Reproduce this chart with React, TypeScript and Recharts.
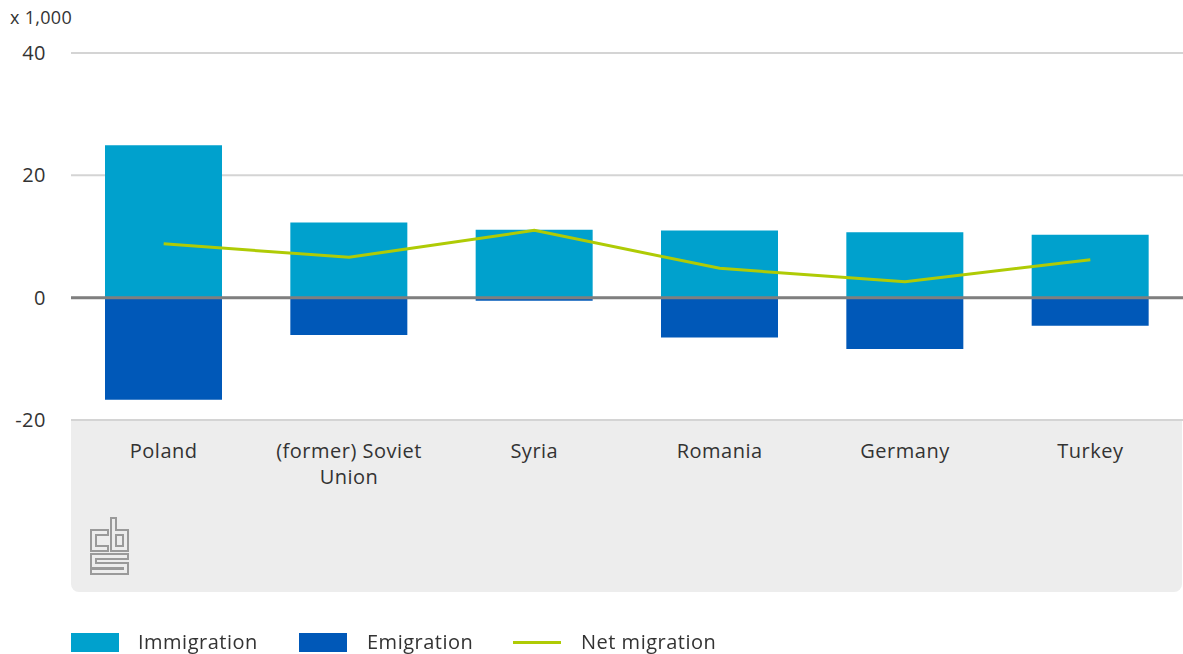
import { Bar, ComposedChart, Line, XAxis, YAxis, CartesianGrid, ReferenceLine } from 'recharts';

const countries = ['Poland', '(former) Soviet Union', 'Syria', 'Romania', 'Germany', 'Turkey'];
const immigration = [24.9, 12.3, 11.1, 11.0, 10.7, 10.3];
const emigration = [-16.7, -6.1, -0.5, -6.5, -8.4, -4.6];
const netMigration = [8.8, 6.6, 11.0, 4.8, 2.6, 6.2];
const yTicks = [-20, 0, 20, 40];

const data = countries.map((country, i) => ({
  country,
  immigration: immigration[i],
  emigration: emigration[i],
  net: netMigration[i],
}));

const FONT = '"Open Sans", sans-serif';
const TEXT = '#333';

// greedy word wrap, max ~16 chars a line
function wrap(label: string, max = 16) {
  const lines: string[] = [];
  let cur = '';
  for (const w of label.split(' ')) {
    if (cur && (cur + ' ' + w).length > max) {
      lines.push(cur);
      cur = w;
    } else {
      cur = cur ? cur + ' ' + w : w;
    }
  }
  if (cur) lines.push(cur);
  return lines;
}

function YTick({ x, y, payload }: any) {
  return (
    <text x={x - 17} y={y} dy={7} textAnchor="end" fontSize={20} letterSpacing={0.5} fill={TEXT} fontFamily={FONT}>
      {payload.value}
    </text>
  );
}

function XTick({ x, y, payload }: any) {
  const lines = wrap(String(payload.value));
  return (
    <text x={x} y={y + 30} textAnchor="middle" fontSize={20} letterSpacing={0.5} fill={TEXT} fontFamily={FONT}>
      {lines.map((l, i) => (
        <tspan key={i} x={x} dy={i === 0 ? 0 : 26}>{l}</tspan>
      ))}
    </text>
  );
}

function CbsLogo() {
  return (
    <svg width={42} height={60} style={{ position: 'absolute', left: 89, top: 516 }}>
      <g fill="none" stroke="#9a9a9a" strokeWidth={2}>
        <path d="M2 14 H19 V19 H7 V30 H19 V35 H2 Z" />
        <path d="M22 2 H27 V14 H39 V35 H22 Z" />
        <path d="M27 19 H34 V30 H27 Z" />
        <path d="M2 38 H39 V43 H7 V47 H39 V58 H2 V53 H34 V52 H2 Z" />
      </g>
    </svg>
  );
}

function LegendRow() {
  const item = { position: 'absolute' as const, top: 629, fontSize: 20, letterSpacing: 0.5, color: TEXT, fontFamily: FONT, lineHeight: '26px' };
  return (
    <>
      <div style={{ position: 'absolute', left: 71, top: 633, width: 48, height: 19, background: '#00a1cd' }} />
      <div style={{ ...item, left: 138 }}>Immigration</div>
      <div style={{ position: 'absolute', left: 299, top: 633, width: 48, height: 19, background: '#0058b8' }} />
      <div style={{ ...item, left: 367 }}>Emigration</div>
      <div style={{ position: 'absolute', left: 513, top: 641, width: 48, height: 3, background: '#afcb05' }} />
      <div style={{ ...item, left: 581 }}>Net migration</div>
    </>
  );
}

export default function App() {
  return (
    <div style={{ position: 'fixed', left: 0, top: 0, width: 1183, height: 654, background: '#fff', fontFamily: FONT }}>
      <div style={{ position: 'absolute', left: 71, top: 420, width: 1111, height: 172, background: '#ededed', borderRadius: '0 0 8px 8px' }} />
      <CbsLogo />
      <div style={{ position: 'absolute', left: 10, top: 5, fontSize: 18, letterSpacing: 0.3, color: TEXT }}>x 1,000</div>
      <div style={{ position: 'absolute', left: 0, top: 0 }}>
        <ComposedChart width={1183} height={654} data={data} stackOffset="sign" margin={{ top: 53, right: 0, bottom: 0, left: 0 }} barSize={117}>
          <CartesianGrid vertical={false} stroke="#d4d4d4" strokeWidth={2} />
          <XAxis dataKey="country" axisLine={false} tickLine={false} height={234} tick={<XTick />} interval={0} />
          <YAxis domain={[-20, 40]} ticks={yTicks} axisLine={false} tickLine={false} width={71} tick={<YTick />} />
          <Bar dataKey="immigration" stackId="a" fill="#00a1cd" isAnimationActive={false} />
          <Bar dataKey="emigration" stackId="a" fill="#0058b8" isAnimationActive={false} />
          <ReferenceLine y={0} stroke="#7f7f7f" strokeWidth={3} />
          <Line dataKey="net" type="linear" stroke="#afcb05" strokeWidth={3} dot={false} isAnimationActive={false} />
        </ComposedChart>
      </div>
      <LegendRow />
    </div>
  );
}
